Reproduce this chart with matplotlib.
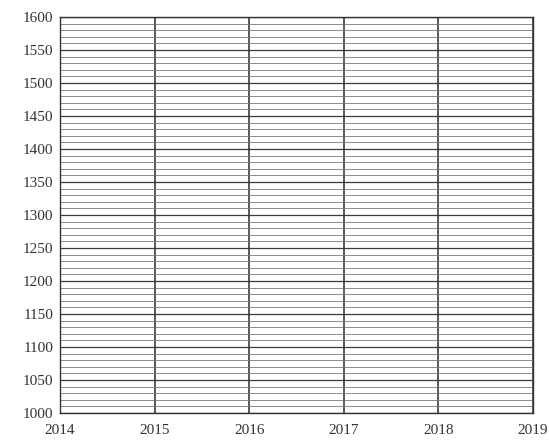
import numpy as np
import matplotlib
matplotlib.use("Agg")
import matplotlib.pyplot as plt

years = [2014, 2015, 2016, 2017, 2018, 2019]
y_major = [1000, 1050, 1100, 1150, 1200, 1250, 1300, 1350, 1400, 1450, 1500, 1550, 1600]
y_minor_step = 10

plt.rcParams['font.family'] = ['Liberation Serif', 'DejaVu Serif']

fig = plt.figure(figsize=(5.49, 4.42), dpi=100)
ax = fig.add_axes([60 / 549, 1 - 413 / 442, 473 / 549, 396 / 442])

ax.set_xlim(years[0], years[-1])
ax.set_ylim(y_major[0], y_major[-1])

ax.set_xticks(years)
ax.set_yticks(y_major)
ax.set_yticks(np.arange(y_major[0], y_major[-1] + 1, y_minor_step), minor=True)

# fine ruling, every 10 units
ax.grid(True, which='minor', axis='y', color='#7a7a7a', linewidth=0.6)
ax.grid(True, which='major', axis='y', color='#3a3a3a', linewidth=0.9)
ax.grid(True, which='major', axis='x', color='#2a2a2a', linewidth=1.1)
ax.set_axisbelow(True)

ax.tick_params(axis='both', which='both', length=0, labelsize=11, colors='#333333')
ax.tick_params(axis='x', pad=8)
ax.tick_params(axis='y', pad=5)
for s in ax.spines.values():
    s.set_color('#333333')
    s.set_linewidth(1.0)

fig.savefig("out.png", dpi=100)
